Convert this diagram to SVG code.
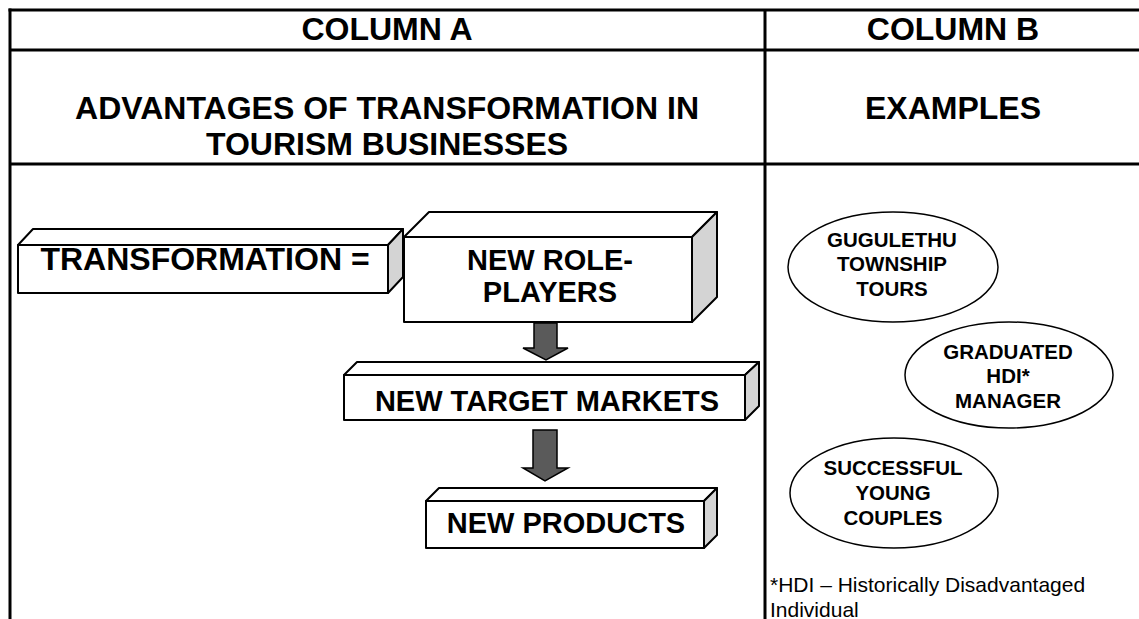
<svg xmlns="http://www.w3.org/2000/svg" width="1139" height="619" viewBox="0 0 1139 619">
<defs>
<style>
.grid{stroke:#000;stroke-width:3;fill:none}
.hd{font-family:"Liberation Sans",Arial,sans-serif;font-weight:bold;font-size:32px;text-anchor:middle;fill:#000}
.bx{font-family:"Liberation Sans",Arial,sans-serif;font-weight:bold;font-size:29px;text-anchor:middle;fill:#000}
.el{font-family:"Liberation Sans",Arial,sans-serif;font-weight:bold;font-size:20.5px;text-anchor:middle;fill:#000}
.fn{font-family:"Liberation Sans",Arial,sans-serif;font-size:21px;fill:#000}
.face{fill:#fff;stroke:#000;stroke-width:2;stroke-linejoin:round}
.side{fill:#d4d4d4;stroke:#000;stroke-width:2;stroke-linejoin:round}
.arr{fill:#5a5a5a;stroke:#000;stroke-width:1.5;stroke-linejoin:miter}
.ell{fill:#fff;stroke:#000;stroke-width:1.5}
</style>
</defs>
<rect width="1139" height="619" fill="#fff"/>
<g id="table">
<line class="grid" x1="8.5" y1="10" x2="1139" y2="10"/>
<line class="grid" x1="10" y1="8.5" x2="10" y2="619"/>
<line class="grid" x1="10" y1="50" x2="1139" y2="50"/>
<line class="grid" x1="10" y1="164" x2="1139" y2="164"/>
<line class="grid" x1="765" y1="10" x2="765" y2="619"/>
<text class="hd" x="387" y="40">COLUMN A</text>
<text class="hd" x="953" y="40">COLUMN B</text>
<text class="hd" x="387" y="119">ADVANTAGES OF TRANSFORMATION IN</text>
<text class="hd" x="387" y="155">TOURISM BUSINESSES</text>
<text class="hd" x="953" y="119">EXAMPLES</text>
</g>
<g id="transformation">
<polygon class="face" points="18,245 33,229 403,229 388,245"/>
<polygon class="side" points="388,245 403,229 403,277 388,293"/>
<rect class="face" x="18" y="245" width="370" height="48"/>
<text class="bx" x="205" y="270" style="font-size:32px">TRANSFORMATION =</text>
</g>
<g id="role-players">
<polygon class="face" points="404,237 429,212 717,212 692,237"/>
<polygon class="side" points="692,237 717,212 717,297 692,322"/>
<rect class="face" x="404" y="237" width="288" height="85"/>
<text class="bx" x="550" y="270">NEW ROLE-</text>
<text class="bx" x="550" y="302">PLAYERS</text>
</g>
<g id="target-markets">
<polygon class="face" points="344,375 357,362 759,362 745,375"/>
<polygon class="side" points="745,375 759,362 759,406 745,420"/>
<rect class="face" x="344" y="375" width="401" height="45"/>
<text class="bx" x="547" y="411">NEW TARGET MARKETS</text>
</g>
<g id="products">
<polygon class="face" points="426,501 439,488 717,488 704,501"/>
<polygon class="side" points="704,501 717,488 717,535 704,548"/>
<rect class="face" x="426" y="501" width="278" height="47"/>
<text class="bx" x="566" y="533">NEW PRODUCTS</text>
</g>
<g id="connectors">
<polygon class="arr" points="534,323 557,323 557,348 568,348 546,360 523,348 534,348"/>
<polygon class="arr" points="533,430 557,430 557,468 568,468 545,481 523,468 533,468"/>
</g>
<g id="gugulethu">
<ellipse class="ell" cx="893" cy="267" rx="105" ry="55"/>
<text class="el" x="892" y="247">GUGULETHU</text>
<text class="el" x="892" y="271">TOWNSHIP</text>
<text class="el" x="892" y="296">TOURS</text>
</g>
<g id="graduated">
<ellipse class="ell" cx="1009" cy="375" rx="104" ry="53"/>
<text class="el" x="1008" y="359">GRADUATED</text>
<text class="el" x="1008" y="383">HDI*</text>
<text class="el" x="1008" y="408">MANAGER</text>
</g>
<g id="successful">
<ellipse class="ell" cx="894" cy="493" rx="104" ry="55"/>
<text class="el" x="893" y="475">SUCCESSFUL</text>
<text class="el" x="893" y="500">YOUNG</text>
<text class="el" x="893" y="525">COUPLES</text>
</g>
<g id="footnote">
<text class="fn" x="770" y="592">*HDI – Historically Disadvantaged</text>
<text class="fn" x="770" y="617">Individual</text>
</g>
</svg>
